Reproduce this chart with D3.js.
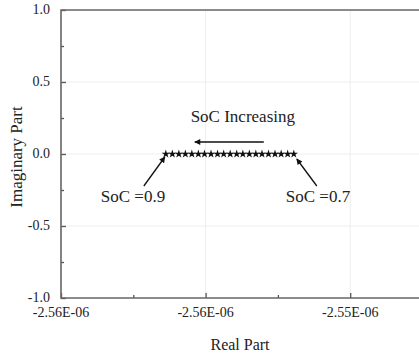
<!DOCTYPE html>
<html>
<head>
<meta charset="utf-8">
<script src="https://cdn.jsdelivr.net/npm/d3@7"></script>
<style>
  body { margin: 0; background: #fff; }
  .grid line { stroke: #eeeeee; stroke-width: 1; }
  .frame { stroke: #666; stroke-width: 1.6; fill: none; }
  .tick-label { font-size: 14px; fill: #222; }
</style>
</head>
<body>
<svg id="chart" width="419" height="354"></svg>
<script>
// data: SoC 0.9 (left) -> 0.7 (right)
var soc = [0.90, 0.89, 0.88, 0.87, 0.86, 0.85, 0.84, 0.83, 0.82, 0.81, 0.80,
           0.79, 0.78, 0.77, 0.76, 0.75, 0.74, 0.73, 0.72, 0.71, 0.70];
var realPart = [-2.55910e-6, -2.55892e-6, -2.55874e-6, -2.55856e-6, -2.55838e-6,
                -2.55820e-6, -2.55803e-6, -2.55785e-6, -2.55767e-6, -2.55750e-6,
                -2.55732e-6, -2.55714e-6, -2.55697e-6, -2.55679e-6, -2.55661e-6,
                -2.55644e-6, -2.55626e-6, -2.55608e-6, -2.55591e-6, -2.55573e-6,
                -2.55556e-6];
var imagPart = [0, 0, 0, 0, 0, 0, 0, 0, 0, 0, 0, 0, 0, 0, 0, 0, 0, 0, 0, 0, 0];

var xTicks = [-2.562e-6, -2.558e-6, -2.554e-6],
    xMinor = [-2.560e-6, -2.556e-6],
    yTicks = [-1.0, -0.5, 0.0, 0.5, 1.0],
    yMinor = [-0.75, -0.25, 0.25, 0.75];

var serif = "Liberation Serif";

var svg = d3.select("#chart"),
    margin = { top: 10, right: 0, bottom: 56, left: 61 },
    width = +svg.attr("width") - margin.left - margin.right,
    height = +svg.attr("height") - margin.top - margin.bottom;

var x = d3.scaleLinear()
    .domain([-2.562e-6, -2.562e-6 + width / 144.6 * 0.004e-6])
    .range([0, width]);
var y = d3.scaleLinear().domain([-1, 1]).range([height, 0]);

// -2.56e-6 -> -2.56E-06
function sciFmt(v) {
    var s = v.toExponential(2).split("e");
    var e = +s[1];
    return s[0] + "E" + (e < 0 ? "-" : "+") + String(Math.abs(e)).padStart(2, "0");
}

var g = svg.append("g")
    .attr("transform", "translate(" + margin.left + "," + margin.top + ")");

// faint grid
var grid = g.append("g").attr("class", "grid");
grid.selectAll(".gx").data(xTicks.slice(1)).enter().append("line")
    .attr("x1", x).attr("x2", x).attr("y1", 0).attr("y2", height);
grid.selectAll(".gy").data([-0.5, 0, 0.5]).enter().append("line")
    .attr("x1", 0).attr("x2", width).attr("y1", y).attr("y2", y);

// axes, ticks pointing inward
var xAxis = d3.axisTop(x).tickValues(xTicks).tickFormat("").tickSizeInner(5).tickSizeOuter(0);
var xAxisMinor = d3.axisTop(x).tickValues(xMinor).tickFormat("").tickSizeInner(3).tickSizeOuter(0);
var yAxis = d3.axisRight(y).tickValues(yTicks).tickFormat("").tickSizeInner(5).tickSizeOuter(0);
var yAxisMinor = d3.axisRight(y).tickValues(yMinor).tickFormat("").tickSizeInner(3).tickSizeOuter(0);

[[xAxis, "translate(0," + height + ")"], [xAxisMinor, "translate(0," + height + ")"],
 [yAxis, null], [yAxisMinor, null]].forEach(function (a) {
    var ax = g.append("g").call(a[0]);
    if (a[1]) ax.attr("transform", a[1]);
    ax.select(".domain").remove();
    ax.selectAll("line").attr("stroke", "#555").attr("stroke-width", 1.3);
});

// frame: left, bottom, top
g.append("path").attr("class", "frame")
    .attr("d", "M" + width + ",0H0V" + height + "H" + width);

// tick labels
g.selectAll(".xl").data(xTicks).enter().append("text")
    .attr("class", "tick-label").attr("font-family", serif)
    .attr("x", x).attr("y", height + 19)
    .attr("text-anchor", "middle")
    .text(sciFmt);
g.selectAll(".yl").data(yTicks).enter().append("text")
    .attr("class", "tick-label").attr("font-family", serif)
    .attr("x", -11).attr("y", function (d) { return y(d) + 4; })
    .attr("text-anchor", "end")
    .text(function (d) { return d3.format(".1f")(d).replace("−", "-"); });

// axis titles
svg.append("text")
    .attr("x", margin.left + width / 2).attr("y", 350)
    .attr("text-anchor", "middle").attr("font-size", 16).attr("fill", "#222")
    .attr("font-family", serif)
    .text("Real Part");
svg.append("text")
    .attr("transform", "translate(22,157) rotate(-90)")
    .attr("text-anchor", "middle").attr("font-size", 17).attr("fill", "#222")
    .attr("font-family", serif)
    .text("Imaginary Part");

// data stars
var pts = realPart.map(function (r, i) { return { re: r, im: imagPart[i], soc: soc[i] }; });
g.selectAll(".star").data(pts).enter().append("path")
    .attr("d", d3.symbol().type(d3.symbolStar).size(22))
    .attr("transform", function (d) { return "translate(" + x(d.re) + "," + y(d.im) + ")"; })
    .attr("fill", "#111");

// annotations
var defs = svg.append("defs");
defs.append("marker")
    .attr("id", "arrow").attr("viewBox", "0 0 10 10")
    .attr("refX", 9).attr("refY", 5)
    .attr("markerWidth", 8).attr("markerHeight", 6).attr("orient", "auto")
    .attr("markerUnits", "userSpaceOnUse")
    .append("path").attr("d", "M0,0L10,5L0,10z").attr("fill", "#111");

var first = pts[0], last = pts[pts.length - 1];
var ann = g.append("g").attr("stroke", "#111").attr("stroke-width", 1.3);

// "SoC Increasing" arrow, pointing left
ann.append("line")
    .attr("x1", x(last.re) - 30).attr("y1", y(0) - 12)
    .attr("x2", x(first.re) + 29).attr("y2", y(0) - 12)
    .attr("marker-end", "url(#arrow)");
// pointers to the end points
ann.append("line")
    .attr("x1", x(first.re) - 22).attr("y1", y(0) + 32)
    .attr("x2", x(first.re) - 1).attr("y2", y(0) + 3)
    .attr("marker-end", "url(#arrow)");
ann.append("line")
    .attr("x1", x(last.re) + 23).attr("y1", y(0) + 32)
    .attr("x2", x(last.re) + 3).attr("y2", y(0) + 5)
    .attr("marker-end", "url(#arrow)");

g.append("text")
    .attr("x", (x(first.re) + x(last.re)) / 2 + 13).attr("y", y(0) - 32)
    .attr("text-anchor", "middle").attr("font-size", 17).attr("fill", "#222")
    .attr("font-family", serif)
    .text("SoC Increasing");
g.append("text")
    .attr("x", x(first.re) - 65).attr("y", y(0) + 48)
    .attr("font-size", 17).attr("fill", "#222")
    .attr("font-family", serif)
    .text("SoC =" + first.soc.toFixed(1));
g.append("text")
    .attr("x", x(last.re) - 8).attr("y", y(0) + 48)
    .attr("font-size", 17).attr("fill", "#222")
    .attr("font-family", serif)
    .text("SoC =" + last.soc.toFixed(1));
</script>
</body>
</html>
